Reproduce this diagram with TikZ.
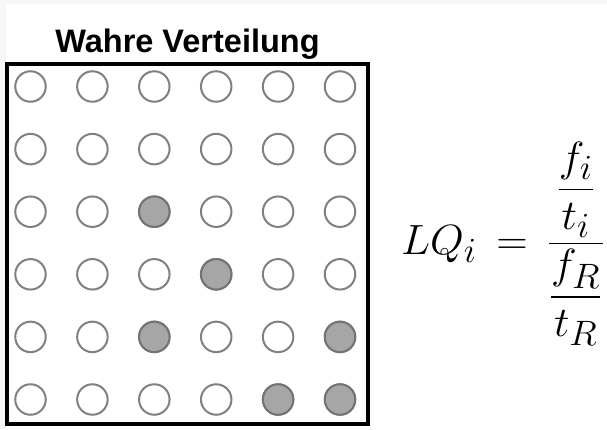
\documentclass[tikz,border=0pt]{standalone}
\usepackage{fontspec}
\newfontfamily\titlefont{Liberation Sans}
\usepackage{amsmath}
\definecolor{bgline}{HTML}{F7F7F7}
\definecolor{dotline}{HTML}{808080}
\definecolor{dotfill}{HTML}{A6A6A6}
\tikzset{
  dot/.style={circle, draw=dotline, line width=2pt, minimum size=30.5pt, inner sep=0pt, fill=white},
  fulldot/.style={dot, fill=dotfill, draw=dotline!90!black},
  frame/.style={draw=black, line width=4pt},
}
\begin{document}
\begin{tikzpicture}[x=1pt,y=-1pt]
\useasboundingbox (0,0) rectangle (607,429);
\fill[bgline] (0,0) rectangle (607,429);
\fill[white] (5.5,4) rectangle (607,429);
\node[font=\titlefont\bfseries\fontsize{32.5}{38}\selectfont, anchor=base] (title) at (187.5,52) {Wahre Verteilung};
\draw[frame] (7,64) rectangle (368,424);
\foreach \r in {1,...,6}{
  \foreach \c in {1,...,6}{
    \node[dot] (d\r\c) at ({30.5+61.9*(\c-1)},{86.5+62.6*(\r-1)}) {};
  }
}
\foreach \r/\c in {3/3,4/4,5/3,5/6,6/5,6/6}{
  \node[fulldot] at (d\r\c) {};
}
\node[anchor=west, inner sep=0pt] (eq) at (401,244)
  {\scalebox{1.75}[1.7]{\Huge$LQ_i \,=\, \dfrac{\dfrac{f_i}{t_i}}{\dfrac{f_R}{t_R}}$}};
\end{tikzpicture}
\end{document}
